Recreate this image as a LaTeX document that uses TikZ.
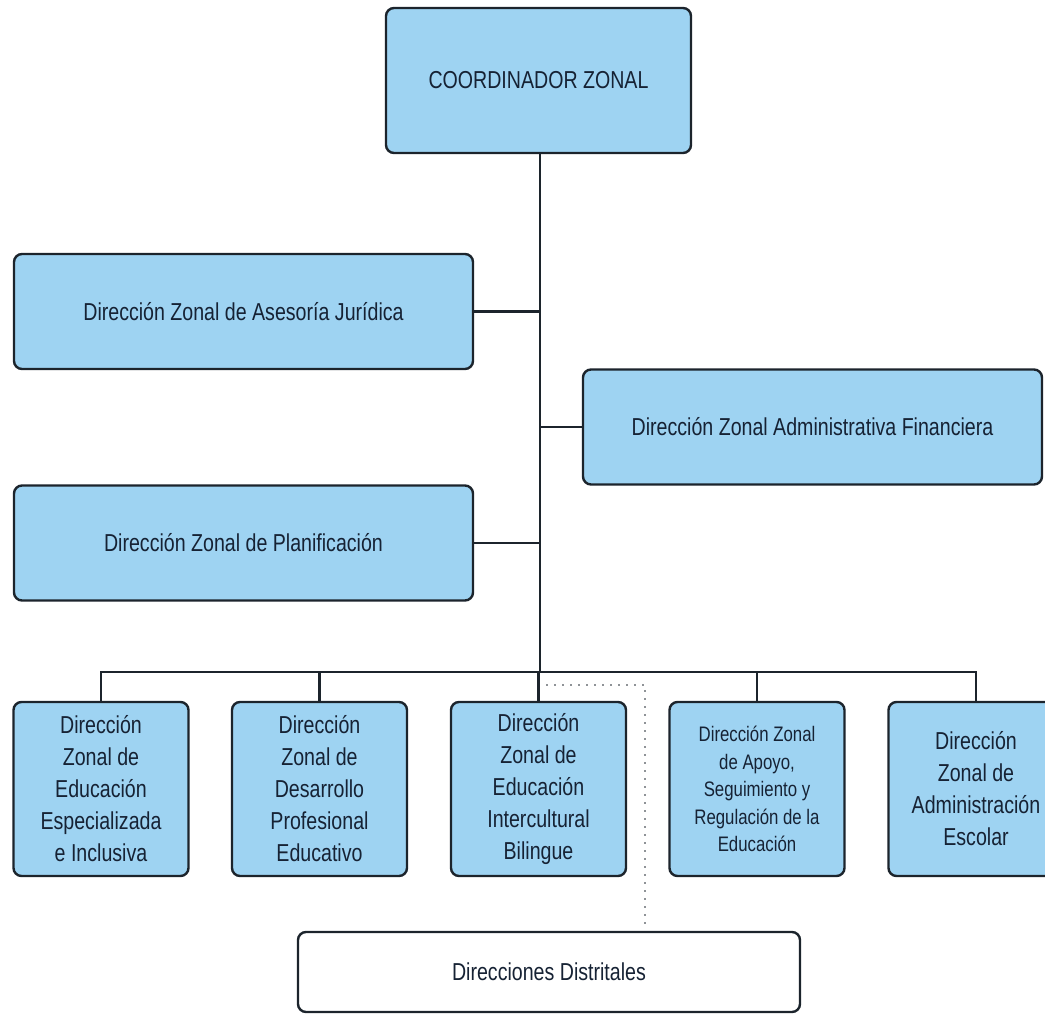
\documentclass[tikz,border=0pt]{standalone}
\usepackage{fontspec}
\setmainfont{Liberation Sans}[FakeStretch=0.8]
\definecolor{boxblue}{RGB}{158,211,242}
\definecolor{boxline}{RGB}{28,36,44}
\definecolor{boxtext}{RGB}{22,34,52}
\begin{document}
\begin{tikzpicture}[x=1pt,y=-1pt,
    unit/.style={draw=boxline,line width=2.4pt,rounded corners=8pt,fill=boxblue,
      text=boxtext,align=center,inner sep=0pt,font=\fontsize{24.5}{32}\selectfont},
    head/.style={unit,minimum width=305pt,minimum height=145pt},
    wide/.style={unit,minimum width=459pt,minimum height=115pt},
    small/.style={unit,minimum width=175pt,minimum height=174pt},
    plain/.style={unit,fill=white,minimum width=502pt,minimum height=80pt},
    link/.style={draw=boxline,line width=2.2pt},
    dots/.style={draw=boxline,line width=1.6pt,line cap=round,dash pattern=on 0pt off 8pt}]
      \useasboundingbox (0,0) rectangle (1045,1016);
      \draw
        (538.5,80.5) node[head] (coord){COORDINADOR ZONAL}
        (243.5,311.5) node[wide] (jur){Dirección Zonal de Asesoría Jurídica}
        (812.5,427) node[wide] (fin){Dirección Zonal Administrativa Financiera}
        (243.5,543) node[wide] (plan){Dirección Zonal de Planificación}
        (101,789) node[small] (esp){Dirección\\Zonal de\\Educación\\Especializada\\e Inclusiva}
        (319.5,789) node[small] (des){Dirección\\Zonal de\\Desarrollo\\Profesional\\Educativo}
        (538.5,789) node[small] (bil){Dirección\\Zonal de\\Educación\\Intercultural\\Bilingue}
        (757,789) node[small,font=\fontsize{21}{27.5}\selectfont] (apo){Dirección Zonal\\de Apoyo,\\Seguimiento y\\Regulación de la\\Educación}
        (976,789) node[small] (esc){Dirección\\Zonal de\\Administración\\Escolar}
        (549,972) node[plain] (dist){Direcciones Distritales};
      \coordinate (bus) at (540,672);
      \coordinate (dotstart) at (547,685);
      \coordinate (dotcorner) at (645,685);
      \begin{scope}[link]
        \draw (coord.south -| bus) to (bus);
        \draw (jur.east) to (jur.east -| bus);
        \draw (fin.west) to (fin.west -| bus);
        \draw (plan.east) to (plan.east -| bus);
        \draw (bus) -| (esp.north);
        \draw (bus) -| (des.north);
        \draw (bus) -| (bil.north);
        \draw (bus) -| (apo.north);
        \draw (bus) -| (esc.north);
      \end{scope}
      \draw[dots] (dotstart) -- (dotcorner) -- (dotcorner |- dist.north);
    \end{tikzpicture}
\end{document}
